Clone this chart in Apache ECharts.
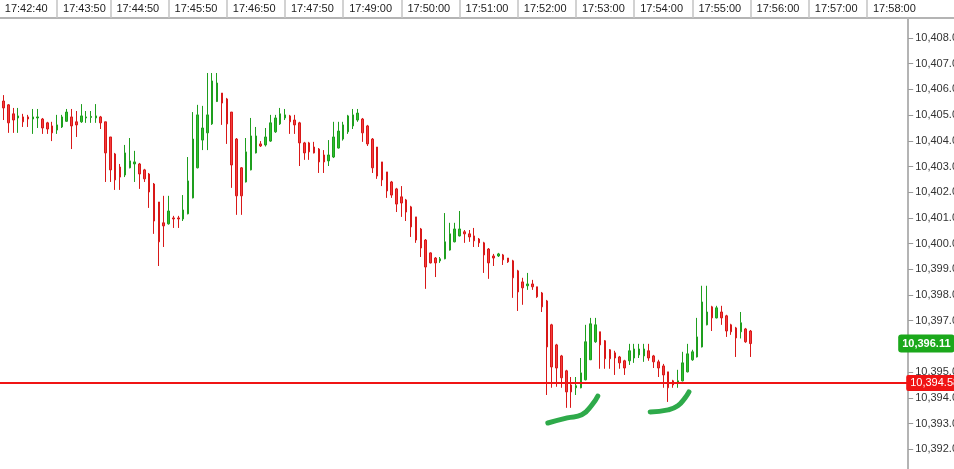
<!DOCTYPE html>
<html>
<head>
<meta charset="utf-8">
<script src="https://cdn.jsdelivr.net/npm/echarts@6/dist/echarts.min.js"></script>
<style>
  html, body { margin: 0; padding: 0; background: #fff; }
  #chart { width: 954px; height: 469px; }
</style>
</head>
<body>
<div id="chart"></div>
<script>
// 5 second bars, [open, close, low, high] split into four lists
var opens = [
  10405.60,10405.55,10405.40,10405.05,10404.89,10404.93,10404.93,10404.85,10404.89,10404.85,
  10404.70,10404.58,10404.42,10404.54,10404.76,10404.93,10404.74,10404.74,10404.89,10404.91,
  10404.89,10404.93,10404.74,10404.15,10403.49,10402.98,10402.67,10402.95,10403.10,10403.10,
  10402.87,10402.71,10402.32,10401.62,10400.81,10400.77,10401.00,10401.00,10400.96,10401.16,
  10401.78,10402.95,10404.03,10404.31,10404.66,10405.53,10405.86,10405.63,10405.12,10404.07,
  10402.95,10402.40,10402.87,10403.53,10403.88,10403.84,10403.99,10404.35,10404.66,10404.89,
  10404.97,10404.81,10404.70,10403.92,10403.92,10403.76,10403.68,10403.45,10403.22,10403.37,
  10403.72,10404.07,10404.35,10404.58,10404.81,10404.85,10404.58,10404.07,10403.76,10403.18,
  10402.79,10402.40,10402.13,10401.82,10401.70,10401.43,10401.04,10400.57,10400.14,10399.64,
  10399.44,10399.33,10399.41,10399.75,10400.07,10400.30,10400.46,10400.38,10400.30,10400.18,
  10400.03,10399.79,10399.52,10399.52,10399.56,10399.44,10399.33,10398.94,10398.51,10398.36,
  10398.43,10398.32,10398.08,10397.77,10396.84,10396.06,10395.63,10395.05,10394.50,10394.39,
  10394.39,10394.70,10395.48,10396.18,10396.57,10396.22,10395.87,10395.75,10395.59,10395.44,
  10395.44,10395.55,10395.67,10395.63,10395.83,10395.63,10395.40,10395.24,10395.01,10394.66,
  10394.58,10394.66,10395.01,10395.48,10395.59,10395.98,10396.84,10397.54,10397.11,10397.34,
  10397.19,10396.84,10396.72,10396.57,10396.68,10396.60
];
var closes = [
  10405.45,10405.28,10404.70,10404.81,10404.97,10404.74,10404.85,10404.93,10404.93,10404.50,
  10404.46,10404.31,10404.62,10404.93,10405.12,10404.58,10404.62,10404.97,10404.93,10404.95,
  10404.97,10404.70,10403.53,10402.87,10402.48,10402.59,10403.53,10403.22,10403.18,10402.71,
  10402.52,10402.01,10400.88,10400.07,10400.69,10401.27,10400.96,10400.96,10401.31,10402.44,
  10404.07,10405.01,10404.50,10405.01,10406.33,10406.25,10405.47,10404.66,10403.06,10401.86,
  10401.86,10403.57,10404.19,10404.19,10403.80,10404.15,10404.70,10404.89,10405.05,10405.01,
  10404.74,10404.62,10403.92,10403.53,10403.57,10403.53,10403.18,10403.18,10403.45,10404.15,
  10404.38,10404.62,10404.97,10405.01,10405.08,10404.31,10403.88,10402.95,10402.63,10402.48,
  10402.05,10401.89,10401.54,10401.58,10401.23,10400.65,10400.14,10399.83,10399.09,10399.25,
  10399.25,10399.41,10400.07,10400.38,10400.57,10400.57,10400.38,10400.26,10400.11,10400.03,
  10399.56,10399.25,10399.44,10399.60,10399.37,10399.29,10398.67,10398.12,10398.28,10398.43,
  10398.32,10397.93,10397.54,10395.98,10395.20,10395.16,10394.78,10394.23,10394.23,10394.47,
  10394.97,10396.18,10396.88,10396.84,10396.06,10395.52,10395.52,10395.55,10395.36,10395.16,
  10395.83,10395.90,10395.90,10395.90,10395.55,10395.40,10395.16,10394.89,10394.39,10394.50,
  10394.66,10395.36,10395.71,10395.79,10396.37,10397.73,10397.34,10397.11,10397.50,10397.11,
  10396.60,10396.57,10396.33,10396.92,10396.18,10396.11
];
var lows = [
  10405.20,10404.81,10404.31,10404.31,10404.31,10404.54,10404.54,10404.27,10404.50,10404.27,
  10404.27,10403.99,10404.27,10404.50,10404.74,10403.68,10404.15,10404.70,10404.70,10404.70,
  10404.70,10404.46,10402.40,10402.40,10402.09,10402.09,10402.59,10402.93,10402.40,10402.13,
  10402.40,10401.39,10400.38,10399.13,10399.87,10400.74,10400.61,10400.61,10400.88,10401.14,
  10401.76,10402.93,10403.64,10403.64,10404.62,10405.51,10404.62,10403.88,10402.17,10401.12,
  10401.12,10402.38,10402.85,10403.51,10403.76,10403.78,10403.96,10404.31,10404.62,10404.81,
  10404.27,10404.27,10403.02,10403.26,10403.26,10403.51,10402.75,10402.75,10403.02,10403.33,
  10403.70,10404.01,10404.27,10404.46,10404.74,10403.96,10403.80,10402.75,10402.52,10402.24,
  10401.78,10401.78,10401.23,10401.04,10400.88,10400.26,10400.03,10399.48,10398.24,10399.23,
  10398.70,10399.25,10399.39,10399.73,10400.05,10400.28,10400.03,10400.07,10399.87,10399.87,
  10398.86,10398.63,10399.13,10399.48,10399.17,10399.25,10397.89,10397.38,10397.62,10398.20,
  10398.20,10397.89,10397.34,10394.11,10394.39,10394.43,10394.39,10393.61,10393.61,10394.11,
  10394.37,10394.68,10395.47,10396.14,10395.13,10395.13,10395.13,10394.89,10395.13,10394.89,
  10395.28,10395.36,10395.55,10395.40,10395.44,10395.16,10394.81,10394.39,10393.84,10394.39,
  10394.39,10394.64,10394.99,10395.44,10395.57,10395.96,10396.82,10396.60,10397.09,10396.84,
  10396.37,10396.45,10395.59,10396.31,10396.14,10395.59
];
var highs = [
  10405.75,10405.78,10405.43,10405.28,10405.28,10405.05,10405.01,10405.24,10405.24,10404.89,
  10404.74,10404.74,10405.01,10405.01,10405.24,10405.24,10405.16,10405.43,10405.16,10405.16,
  10405.43,10404.97,10404.74,10404.15,10403.53,10403.10,10403.84,10404.11,10403.61,10403.14,
  10402.91,10402.75,10402.36,10401.62,10401.86,10401.86,10401.08,10401.08,10401.89,10403.37,
  10405.12,10405.40,10405.36,10406.64,10406.64,10406.64,10405.86,10405.67,10405.12,10404.11,
  10402.98,10404.11,10404.89,10404.54,10403.99,10404.50,10405.01,10405.01,10405.28,10405.24,
  10405.01,10405.01,10404.74,10403.96,10403.96,10403.96,10403.72,10403.64,10404.03,10404.74,
  10404.74,10404.74,10405.01,10405.24,10405.24,10404.89,10404.62,10404.11,10403.76,10403.18,
  10402.79,10402.44,10402.17,10402.24,10401.74,10401.47,10401.04,10400.61,10400.18,10399.66,
  10399.48,10399.48,10401.19,10400.81,10400.81,10401.27,10400.53,10400.53,10400.61,10400.22,
  10400.07,10399.83,10399.60,10399.64,10399.60,10399.44,10399.37,10398.98,10398.67,10398.86,
  10398.59,10398.32,10398.12,10397.81,10396.88,10396.10,10395.67,10395.09,10394.81,10394.81,
  10395.55,10396.84,10397.11,10397.11,10396.57,10396.25,10395.90,10395.83,10395.63,10395.48,
  10396.10,10396.10,10396.10,10396.10,10396.10,10395.67,10395.48,10395.32,10395.01,10394.70,
  10395.09,10395.79,10396.10,10395.87,10397.11,10398.36,10398.36,10397.58,10397.58,10397.58,
  10397.23,10396.88,10396.76,10397.34,10396.72,10396.64
];

// time axis: labelled bar positions
var tickIdx = [0, 12, 23, 35, 47, 59, 71, 83, 95, 107, 119, 131, 143, 155, 167, 179];
var tickLabels = ['17:42:40', '17:43:50', '17:44:50', '17:45:50', '17:46:50', '17:47:50',
  '17:49:00', '17:50:00', '17:51:00', '17:52:00', '17:53:00', '17:54:00',
  '17:55:00', '17:56:00', '17:57:00', '17:58:00'];
var slotCount = 188;

var yTicks = [10392, 10393, 10394, 10395, 10396, 10397, 10398, 10399, 10400,
  10401, 10402, 10403, 10404, 10405, 10406, 10407, 10408];
var lastPrice = 10396.11;
var levelLine = 10394.58;

// hand-drawn green marks, [bar position, price]
var markA = [[113.2, 10393.02], [117.2, 10393.22], [120.2, 10393.34], [122.3, 10393.73], [123.5, 10394.07]];
var markB = [[134.3, 10393.45], [138.0, 10393.53], [140.0, 10393.69], [141.5, 10394.00], [142.3, 10394.23]];

function toSec(t) {
  var p = t.split(':').map(Number);
  return p[0] * 3600 + p[1] * 60 + p[2];
}
function toTime(s) {
  var h = Math.floor(s / 3600), m = Math.floor(s / 60) % 60, x = s % 60;
  return [h, m, x].map(function (n) { return (n < 10 ? '0' : '') + n; }).join(':');
}
function fmt(v) {
  var s = v.toFixed(2).split('.');
  return s[0].replace(/\B(?=(\d{3})+(?!\d))/g, ',') + '.' + s[1];
}

var categories = [];
for (var i = 0, k = 0; i < slotCount; i++) {
  while (k + 1 < tickIdx.length && tickIdx[k + 1] <= i) k++;
  categories.push(toTime(toSec(tickLabels[k]) + 5 * (i - tickIdx[k])));
}

var candles = [];
for (var j = 0; j < opens.length; j++) {
  candles.push([opens[j], closes[j], lows[j], highs[j]]);
}

function isTick(index) { return tickIdx.indexOf(index) !== -1; }

var myChart = echarts.init(document.getElementById('chart'));
var font = 'Liberation Sans, Arial, sans-serif';

var option = {
  backgroundColor: '#fff',
  animation: false,
  grid: { left: -3.6, right: 45.8, top: 18, bottom: 0, containLabel: false, outerBoundsMode: 'none' },
  graphic: [{
    type: 'line',
    shape: { x1: 908, y1: 18, x2: 954, y2: 18 },
    style: { stroke: '#b4b4b4', lineWidth: 2 }
  }],
  xAxis: [{
    type: 'category',
    position: 'top',
    data: categories,
    boundaryGap: true,
    axisLine: { onZero: false, lineStyle: { color: '#b4b4b4', width: 2 } },
    axisTick: {
      show: true,
      alignWithLabel: true,
      interval: isTick,
      length: 18,
      lineStyle: { color: '#c4c4c4', width: 1.5 }
    },
    axisLabel: {
      interval: isTick,
      align: 'left',
      padding: [0, 0, 0, 6],
      margin: 4,
      fontSize: 11,
      color: '#222',
      fontFamily: font
    },
    splitLine: { show: false }
  }, {
    type: 'value',
    min: -0.5,
    max: slotCount - 0.5,
    show: false
  }],
  yAxis: {
    type: 'value',
    position: 'right',
    min: 10391.23,
    max: 10408.78,
    axisLine: { show: true, onZero: false, lineStyle: { color: '#b4b4b4', width: 2 } },
    axisTick: { show: true, length: 5, customValues: yTicks, lineStyle: { color: '#999' } },
    axisLabel: {
      customValues: yTicks,
      formatter: function (v) { return fmt(v); },
      margin: 7,
      fontSize: 11,
      color: '#333',
      fontFamily: font
    },
    splitLine: { show: false }
  },
  series: [{
    type: 'candlestick',
    data: candles,
    barWidth: 2,
    itemStyle: {
      color: '#2ec02e',
      color0: '#f43c3c',
      borderColor: '#1e9e1e',
      borderColor0: '#d81818',
      borderWidth: 1
    },
    markLine: {
      symbol: ['none', 'none'],
      silent: true,
      animation: false,
      data: [{
        yAxis: levelLine,
        lineStyle: { color: '#f01414', width: 2, type: 'solid' },
        label: {
          show: true, position: 'end', distance: -2,
          formatter: fmt(levelLine),
          color: '#fff', backgroundColor: '#f01414',
          padding: [3, 4, 2, 4], borderRadius: 2,
          fontSize: 11, fontFamily: font
        }
      }, {
        yAxis: lastPrice,
        lineStyle: { color: 'rgba(0,0,0,0)', width: 0 },
        label: {
          show: true, position: 'end', distance: -10,
          formatter: fmt(lastPrice),
          color: '#fff', backgroundColor: '#1ba81b',
          padding: [4, 4, 3, 4], borderRadius: 3,
          fontSize: 11, fontWeight: 'bold', fontFamily: font
        }
      }]
    }
  }, {
    type: 'line',
    xAxisIndex: 1,
    data: markA,
    smooth: true,
    symbol: 'none',
    z: 5,
    lineStyle: { color: '#2eaa4a', width: 5, cap: 'round' }
  }, {
    type: 'line',
    xAxisIndex: 1,
    data: markB,
    smooth: true,
    symbol: 'none',
    z: 5,
    lineStyle: { color: '#2eaa4a', width: 5, cap: 'round' }
  }]
};
myChart.setOption(option);
</script>
</body>
</html>
